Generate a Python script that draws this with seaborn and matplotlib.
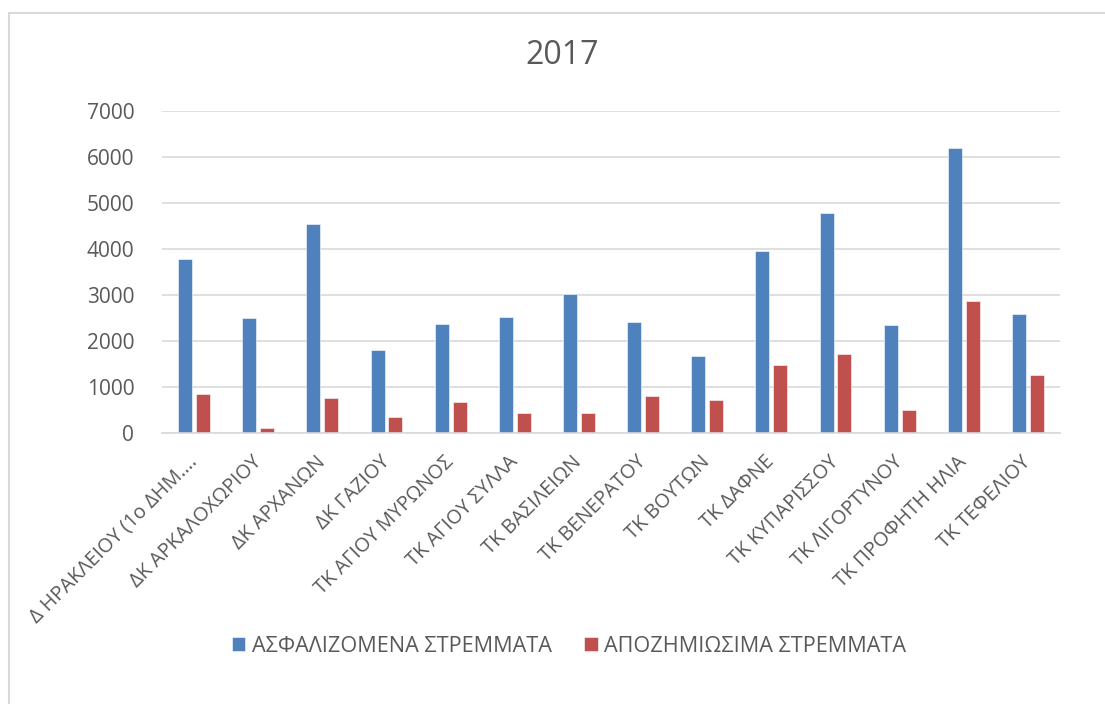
import numpy as np
import pandas as pd
import matplotlib
matplotlib.use("Agg")
import matplotlib.pyplot as plt
import seaborn as sns

# Data
areas = [
    "Δ ΗΡΑΚΛΕΙΟΥ (1ο ΔΗΜ….",
    "ΔΚ ΑΡΚΑΛΟΧΩΡΙΟΥ",
    "ΔΚ ΑΡΧΑΝΩΝ",
    "ΔΚ ΓΑΖΙΟΥ",
    "ΤΚ ΑΓΙΟΥ ΜΥΡΩΝΟΣ",
    "ΤΚ ΑΓΙΟΥ ΣΥΛΛΑ",
    "ΤΚ ΒΑΣΙΛΕΙΩΝ",
    "ΤΚ ΒΕΝΕΡΑΤΟΥ",
    "ΤΚ ΒΟΥΤΩΝ",
    "ΤΚ ΔΑΦΝΕ",
    "ΤΚ ΚΥΠΑΡΙΣΣΟΥ",
    "ΤΚ ΛΙΓΟΡΤΥΝΟΥ",
    "ΤΚ ΠΡΟΦΗΤΗ ΗΛΙΑ",
    "ΤΚ ΤΕΦΕΛΙΟΥ",
]
insured = [3780, 2490, 4540, 1790, 2370, 2520, 3020, 2400, 1670, 3950, 4775, 2335, 6180, 2575]
compensated = [835, 110, 760, 340, 660, 435, 420, 800, 705, 1465, 1705, 495, 2855, 1250]
series_names = ["ΑΣΦΑΛΙΖΟΜΕΝΑ ΣΤΡΕΜΜΑΤΑ", "ΑΠΟΖΗΜΙΩΣΙΜΑ ΣΤΡΕΜΜΑΤΑ"]
colors = ["#4F81BD", "#C0504D"]
yticks = [0, 1000, 2000, 3000, 4000, 5000, 6000, 7000]

df = pd.DataFrame({
    "area": areas * 2,
    "value": insured + compensated,
    "series": [series_names[0]] * len(areas) + [series_names[1]] * len(areas),
})

sns.set_theme(style="white")
plt.rcParams["font.family"] = ["Open Sans", "DejaVu Sans"]
text_col = "#595959"
grid_col = "#D9D9D9"

fig = plt.figure(figsize=(11.05, 7.04), dpi=100)
ax = fig.add_axes([162 / 1105, 1 - 432.7 / 704, (1060 - 162) / 1105, (432.7 - 110.7) / 704])

sns.barplot(data=df, x="area", y="value", hue="series", palette=colors,
            width=0.56, gap=0.22, saturation=1, ax=ax, legend=True,
            edgecolor="#FFFFFF", linewidth=0.4)

ax.set_ylim(0, 7000)
ax.set_xlim(-0.5, len(areas) - 0.5)
ax.set_yticks(yticks)
ax.set_yticklabels([str(v) for v in yticks])
ax.yaxis.grid(True, color=grid_col, linewidth=1.2)
ax.set_axisbelow(True)
for s in ["top", "right", "left"]:
    ax.spines[s].set_visible(False)
ax.spines["bottom"].set_color(grid_col)
ax.spines["bottom"].set_linewidth(1.2)
ax.set_xlabel("")
ax.set_ylabel("")
ax.tick_params(axis="y", length=0, colors=text_col, labelsize=15, pad=20)
ax.tick_params(axis="x", length=0, colors=text_col, labelsize=14.3, pad=19)
plt.setp(ax.get_xticklabels(), rotation=45, ha="right", va="center",
         rotation_mode="anchor")

fig.text(562 / 1105, 1 - 55.5 / 704, "2017", ha="center", va="center",
         fontsize=23, color=text_col)

handles, labels = ax.get_legend_handles_labels()
ax.get_legend().remove()
fig.legend(handles, labels, loc="center", bbox_to_anchor=(569 / 1105, 1 - 646 / 704),
           ncol=2, frameon=False, fontsize=15.6, labelcolor=text_col,
           handlelength=0.62, handleheight=0.62, handletextpad=0.3,
           columnspacing=1.5)

# chart area border
fig.add_artist(plt.Rectangle((9 / 1105, -0.1), 1.2, 1.1 - 13 / 704,
                             transform=fig.transFigure, fill=False,
                             edgecolor=grid_col, linewidth=1.5))

fig.savefig("out.png", dpi=100)
